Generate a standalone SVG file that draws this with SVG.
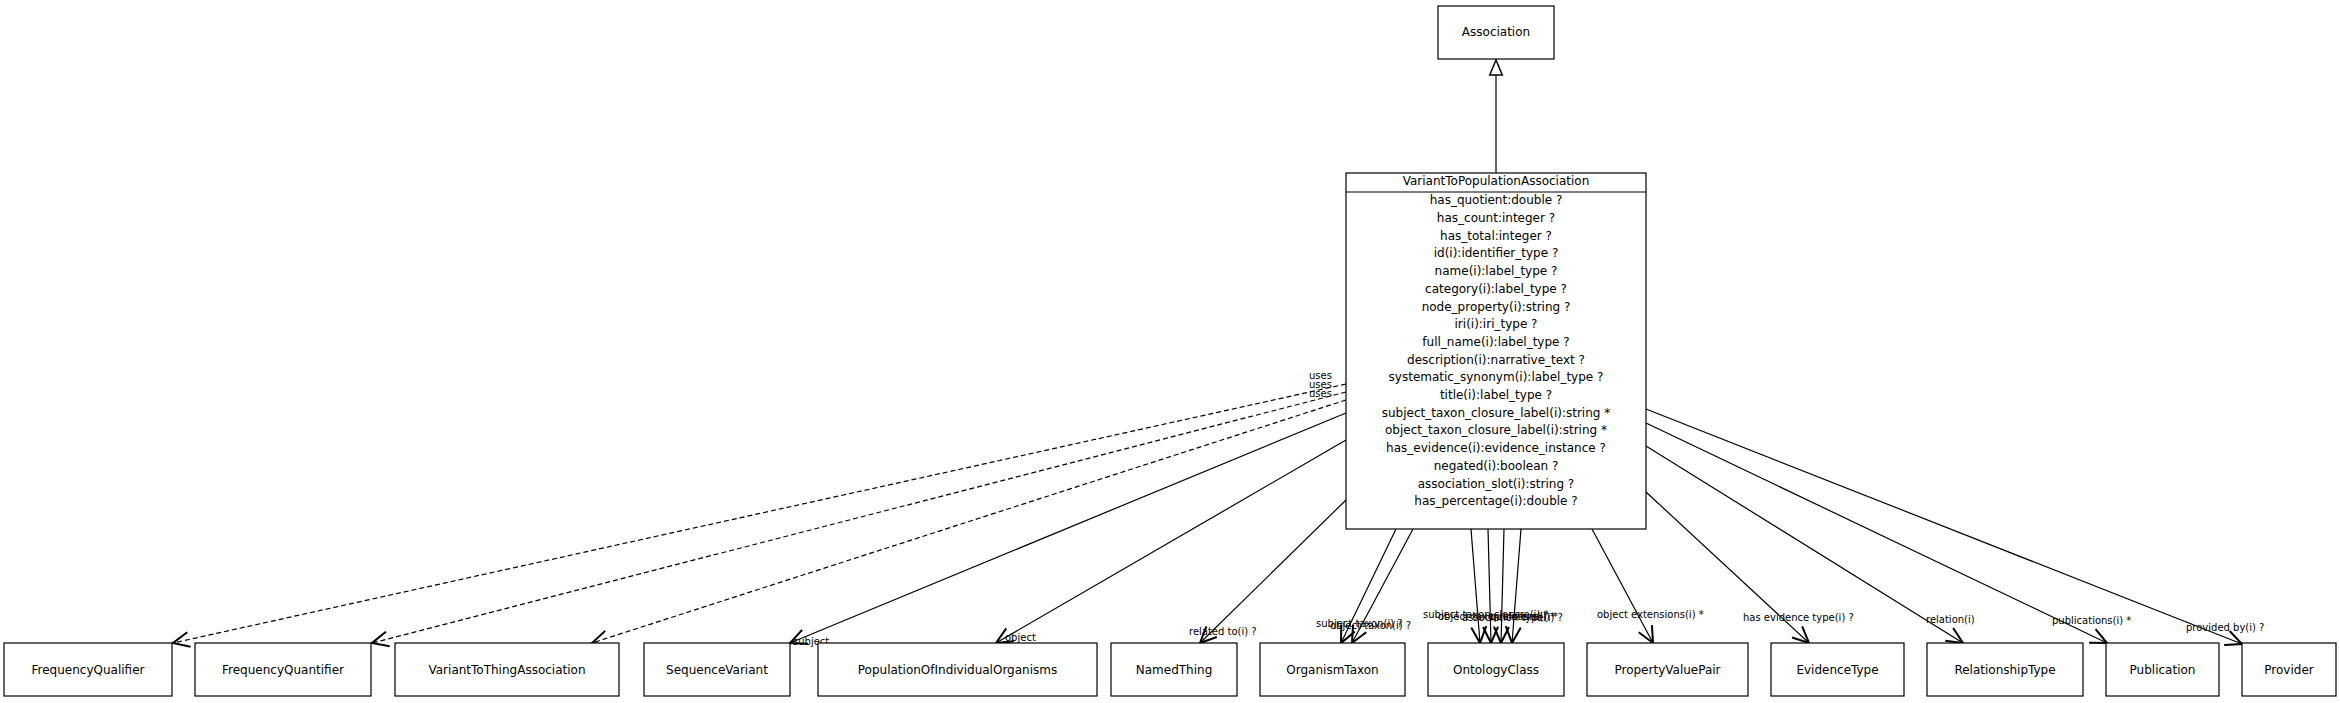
<svg xmlns="http://www.w3.org/2000/svg" width="2340" height="703" viewBox="0 0 2340 703">
<style>
.box{fill:#fff;stroke:#000;stroke-width:1.2}
.t{font-family:"DejaVu Sans",sans-serif;font-size:12px;fill:#000}
.c{text-anchor:middle}
.el{font-family:"DejaVu Sans",sans-serif;font-size:10px;fill:#000}
.ln{fill:none;stroke:#000;stroke-width:1.2}
.dash{stroke-dasharray:5,3}
</style>
<defs>
<marker id="vee" markerUnits="userSpaceOnUse" markerWidth="20" markerHeight="20" refX="0" refY="0" viewBox="-14 -8 16 16" orient="auto" overflow="visible">
<path d="M-13,-6 L0,0 L-13,6" fill="none" stroke="#000" stroke-width="1.6"/>
</marker>
<marker id="tri" markerUnits="userSpaceOnUse" markerWidth="20" markerHeight="20" refX="0" refY="0" viewBox="-14 -8 16 16" orient="auto" overflow="visible">
<path d="M-12,-5 L0,0 L-12,5 Z" fill="#fff" stroke="#000" stroke-width="1.2"/>
</marker>
</defs>
<rect width="2340" height="703" fill="#fff"/>
<g id="connectors">
<line class="ln" x1="1496" y1="173" x2="1496" y2="60" marker-end="url(#tri)"/>
<line class="ln dash" x1="1346" y1="384" x2="173" y2="643" marker-end="url(#vee)"/>
<line class="ln dash" x1="1346" y1="392" x2="372" y2="643" marker-end="url(#vee)"/>
<line class="ln dash" x1="1346" y1="400" x2="592" y2="643" marker-end="url(#vee)"/>
<line class="ln" x1="1346" y1="413" x2="790" y2="643" marker-end="url(#vee)"/>
<line class="ln" x1="1346" y1="440" x2="996" y2="643" marker-end="url(#vee)"/>
<line class="ln" x1="1346" y1="500" x2="1200" y2="643" marker-end="url(#vee)"/>
<line class="ln" x1="1396" y1="529" x2="1341" y2="643" marker-end="url(#vee)"/>
<line class="ln" x1="1413" y1="529" x2="1352" y2="643" marker-end="url(#vee)"/>
<line class="ln" x1="1471" y1="529" x2="1480" y2="643" marker-end="url(#vee)"/>
<line class="ln" x1="1488" y1="529" x2="1491" y2="643" marker-end="url(#vee)"/>
<line class="ln" x1="1504" y1="529" x2="1501" y2="643" marker-end="url(#vee)"/>
<line class="ln" x1="1521" y1="529" x2="1512" y2="643" marker-end="url(#vee)"/>
<line class="ln" x1="1592" y1="529" x2="1653" y2="643" marker-end="url(#vee)"/>
<line class="ln" x1="1646" y1="492" x2="1809" y2="643" marker-end="url(#vee)"/>
<line class="ln" x1="1646" y1="446" x2="1963" y2="643" marker-end="url(#vee)"/>
<line class="ln" x1="1646" y1="423" x2="2107" y2="643" marker-end="url(#vee)"/>
<line class="ln" x1="1646" y1="409" x2="2242" y2="644" marker-end="url(#vee)"/>
<text class="el" x="1309" y="379">uses</text>
<text class="el" x="1309" y="388">uses</text>
<text class="el" x="1309" y="397">uses</text>
<text class="el" x="793" y="645">subject</text>
<text class="el" x="1005" y="641">object</text>
<text class="el" x="1189" y="635">related to(i) ?</text>
<text class="el" x="1316" y="627">subject taxon(i) ?</text>
<text class="el" x="1330" y="629">object taxon(i) ?</text>
<text class="el" x="1423" y="618">subject taxon closure(i) *</text>
<text class="el" x="1438" y="620">object taxon closure(i) *</text>
<text class="el" x="1462" y="621">association type(i) ?</text>
<text class="el" x="1490" y="620">qualifiers(i) *</text>
<text class="el" x="1597" y="618">object extensions(i) *</text>
<text class="el" x="1743" y="621">has evidence type(i) ?</text>
<text class="el" x="1926" y="623">relation(i)</text>
<text class="el" x="2052" y="624">publications(i) *</text>
<text class="el" x="2186" y="631">provided by(i) ?</text>
</g>
<g id="Association">
<rect class="box" x="1438" y="6" width="116" height="53"/>
<text class="t c" x="1496" y="36">Association</text>
</g>
<g id="VariantToPopulationAssociation">
<rect class="box" x="1346" y="173" width="300" height="356"/>
<line class="ln" x1="1346" y1="192" x2="1646" y2="192"/>
<text class="t c" x="1496" y="185">VariantToPopulationAssociation</text>
<text class="t c" x="1496" y="204.3">has_quotient:double ?</text>
<text class="t c" x="1496" y="222">has_count:integer ?</text>
<text class="t c" x="1496" y="239.7">has_total:integer ?</text>
<text class="t c" x="1496" y="257.4">id(i):identifier_type ?</text>
<text class="t c" x="1496" y="275.1">name(i):label_type ?</text>
<text class="t c" x="1496" y="292.8">category(i):label_type ?</text>
<text class="t c" x="1496" y="310.5">node_property(i):string ?</text>
<text class="t c" x="1496" y="328.2">iri(i):iri_type ?</text>
<text class="t c" x="1496" y="345.9">full_name(i):label_type ?</text>
<text class="t c" x="1496" y="363.6">description(i):narrative_text ?</text>
<text class="t c" x="1496" y="381.3">systematic_synonym(i):label_type ?</text>
<text class="t c" x="1496" y="399">title(i):label_type ?</text>
<text class="t c" x="1496" y="416.7">subject_taxon_closure_label(i):string *</text>
<text class="t c" x="1496" y="434.4">object_taxon_closure_label(i):string *</text>
<text class="t c" x="1496" y="452.1">has_evidence(i):evidence_instance ?</text>
<text class="t c" x="1496" y="469.8">negated(i):boolean ?</text>
<text class="t c" x="1496" y="487.5">association_slot(i):string ?</text>
<text class="t c" x="1496" y="505.2">has_percentage(i):double ?</text>
</g>
<g id="FrequencyQualifier"><rect class="box" x="4" y="643" width="168" height="53"/><text class="t c" x="88" y="674">FrequencyQualifier</text></g>
<g id="FrequencyQuantifier"><rect class="box" x="195" y="643" width="176" height="53"/><text class="t c" x="283" y="674">FrequencyQuantifier</text></g>
<g id="VariantToThingAssociation"><rect class="box" x="395" y="643" width="224" height="53"/><text class="t c" x="507" y="674">VariantToThingAssociation</text></g>
<g id="SequenceVariant"><rect class="box" x="644" y="643" width="146" height="53"/><text class="t c" x="717" y="674">SequenceVariant</text></g>
<g id="PopulationOfIndividualOrganisms"><rect class="box" x="818" y="643" width="279" height="53"/><text class="t c" x="957.5" y="674">PopulationOfIndividualOrganisms</text></g>
<g id="NamedThing"><rect class="box" x="1111" y="643" width="126" height="53"/><text class="t c" x="1174" y="674">NamedThing</text></g>
<g id="OrganismTaxon"><rect class="box" x="1260" y="643" width="145" height="53"/><text class="t c" x="1332.5" y="674">OrganismTaxon</text></g>
<g id="OntologyClass"><rect class="box" x="1428" y="643" width="136" height="53"/><text class="t c" x="1496" y="674">OntologyClass</text></g>
<g id="PropertyValuePair"><rect class="box" x="1587" y="643" width="161" height="53"/><text class="t c" x="1667.5" y="674">PropertyValuePair</text></g>
<g id="EvidenceType"><rect class="box" x="1771" y="643" width="133" height="53"/><text class="t c" x="1837.5" y="674">EvidenceType</text></g>
<g id="RelationshipType"><rect class="box" x="1927" y="643" width="156" height="53"/><text class="t c" x="2005" y="674">RelationshipType</text></g>
<g id="Publication"><rect class="box" x="2106" y="643" width="113" height="53"/><text class="t c" x="2162.5" y="674">Publication</text></g>
<g id="Provider"><rect class="box" x="2242" y="643" width="94" height="53"/><text class="t c" x="2289" y="674">Provider</text></g>
</svg>
